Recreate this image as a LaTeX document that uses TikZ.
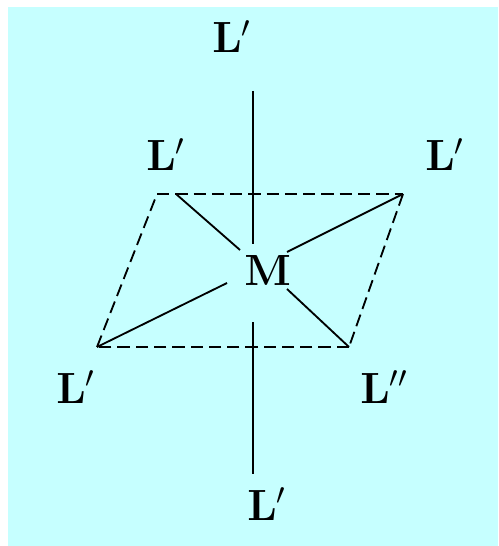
\documentclass[tikz,border=0pt]{standalone}
\usepackage{tikz}

\definecolor{bgcyan}{RGB}{198,255,255}

\tikzset{
    ligand/.style={anchor=base west, inner sep=0pt, font=\fontsize{26}{30}\selectfont},
    bond/.style={line width=1.05pt, black},
    edge/.style={line width=1.05pt, black, dash pattern=on 7pt off 3.4pt}
}

\begin{document}
\begin{tikzpicture}[x=0.02cm, y=-0.02cm]

\useasboundingbox (0,0) rectangle (498,546);
\fill[bgcyan] (8,7) rectangle (498,546);

% Ligands
\node[ligand] (Ltop) at (212,53) {$\mathbf{L}'$};
\node[ligand] (Lback) at (146,171) {$\mathbf{L}'$};
\node[ligand] (Lright) at (425,171) {$\mathbf{L}'$};
\node[ligand] (Lleft) at (56,403) {$\mathbf{L}'$};
\node[ligand] (Lfront) at (360,403) {$\mathbf{L}''$};
\node[ligand] (Lbottom) at (247,520) {$\mathbf{L}'$};
\node[ligand] (M) at (244,286) {$\mathbf{M}$};

% Corners of the plane
\coordinate (back) at (157,194);
\coordinate (right) at (403,194);
\coordinate (left) at (97,347);
\coordinate (front) at (349,347);

% Free ends next to the metal
\coordinate (axisTop) at (253,91);
\coordinate (axisUp) at (253,244);
\coordinate (axisDown) at (253,322);
\coordinate (axisBottom) at (253,474);
\coordinate (backIn) at (240,250);
\coordinate (rightIn) at (287,252);
\coordinate (leftIn) at (227,283);
\coordinate (frontIn) at (287,289);
\coordinate (backOut) at (176,194);

% Plane
\draw[edge] (back) -- (right);
\draw[edge] (right) -- (front);
\draw[edge] (front) -- (left);
\draw[edge] (left) -- (back);

% Bonds
\draw[bond] (axisTop) -- (axisUp);
\draw[bond] (axisDown) -- (axisBottom);
\draw[bond] (backOut) -- (backIn);
\draw[bond] (right) -- (rightIn);
\draw[bond] (left) -- (leftIn);
\draw[bond] (front) -- (frontIn);

\end{tikzpicture}
\end{document}
